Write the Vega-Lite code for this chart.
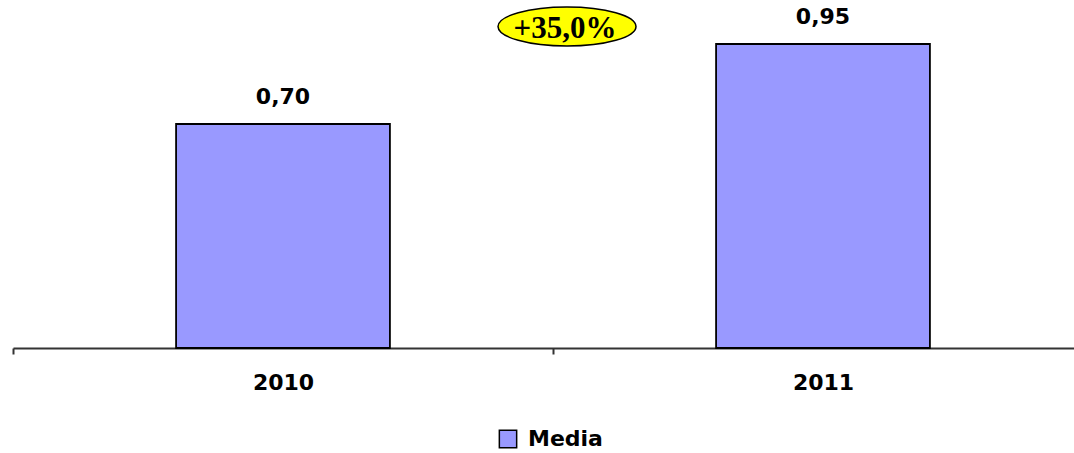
{
  "$schema": "https://vega.github.io/schema/vega-lite/v6.json",
  "autosize": "none",
  "width": 1080,
  "height": 348,
  "padding": {"left": 13, "top": 0, "right": -19, "bottom": 105},
  "background": "white",
  "config": {"view": {"stroke": null}},
  "layer": [
    {
      "data": {"values": [
        {"year": "2010", "value": 0.70, "label": "0,70", "series": "Media"},
        {"year": "2011", "value": 0.95, "label": "0,95", "series": "Media"}
      ]},
      "layer": [
        {
          "mark": {"type": "bar", "width": {"band": 0.396}, "stroke": "#000000", "strokeWidth": 1.8},
          "encoding": {
            "x": {"field": "year", "type": "nominal",
              "scale": {"paddingInner": 0, "paddingOuter": 0},
              "axis": {"title": null, "labelAngle": 0, "tickBand": "extent", "domainColor": "#333333", "domainWidth": 2,
                "tickColor": "#333333", "tickWidth": 2, "tickSize": 6, "grid": false,
                "labelFont": "DejaVu Sans", "labelFontWeight": "bold", "labelFontSize": 22, "labelColor": "#000000", "labelPadding": 18}},
            "y": {"field": "value", "type": "quantitative", "scale": {"domain": [0, 1.0875], "nice": false, "zero": true}, "axis": null},
            "color": {"field": "series", "type": "nominal", "scale": {"domain": ["Media"], "range": ["#9999FF"]},
              "legend": {"title": null, "orient": "none", "legendX": 484, "legendY": 428, "symbolType": "square", "symbolSize": 300,
                "symbolStrokeColor": "#000000", "symbolStrokeWidth": 1.5, "symbolOpacity": 1,
                "labelFont": "DejaVu Sans", "labelFontWeight": "bold", "labelFontSize": 22, "labelColor": "#000000", "labelOffset": 9}}
          }
        },
        {
          "mark": {"type": "text", "baseline": "bottom", "dy": -15, "font": "DejaVu Sans", "fontWeight": "bold", "fontSize": 22, "color": "#000000"},
          "encoding": {
            "x": {"field": "year", "type": "nominal"},
            "y": {"field": "value", "type": "quantitative"},
            "text": {"field": "label"}
          }
        }
      ]
    },
    {
      "data": {"values": [{"note": "+35,0%"}]},
      "layer": [
        {
          "mark": {"type": "point", "shape": "M -1 0 A 1 0.283 0 1 0 1 0 A 1 0.283 0 1 0 -1 0 Z", "size": 19044, "filled": true,
            "fill": "#FFFF00", "stroke": "#000000", "strokeWidth": 1.5, "opacity": 1, "xOffset": 14, "yOffset": -147.5},
          "encoding": {}
        },
        {
          "mark": {"type": "text", "font": "Liberation Serif", "fontWeight": "bold", "fontSize": 31, "color": "#000000", "baseline": "middle", "dx": 12, "dy": -145},
          "encoding": {"text": {"field": "note"}}
        }
      ]
    }
  ]
}
